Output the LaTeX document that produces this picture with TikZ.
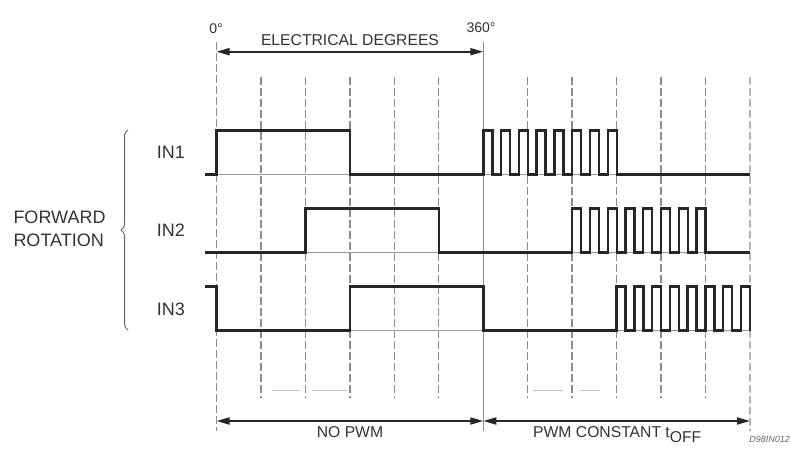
\documentclass[tikz,border=0pt]{standalone}
\usepackage{fontspec}
\setmainfont{Liberation Sans}
\usetikzlibrary{arrows.meta,decorations.pathreplacing}
\begin{document}
\begin{tikzpicture}[x=1pt,y=-1pt,
  sig/.style={line width=2.4pt,black!85,line join=miter},
  baseln/.style={line width=0.8pt,black!40},
  gridln/.style={line width=1.4pt,black!45,dash pattern=on 7.5pt off 3.5pt},
  solidln/.style={line width=1.3pt,black!45},
  faint/.style={line width=0.6pt,black!25},
  dim/.style={line width=1.8pt,black!85,{Triangle[length=13pt,width=7pt]}-{Triangle[length=13pt,width=7pt]}},
  lbl/.style={text=black!80,inner sep=0pt,font=\fontsize{15.7}{19}\selectfont},
  biglbl/.style={text=black!80,inner sep=0pt,font=\fontsize{18}{23.3}\selectfont},
  smlbl/.style={text=black!80,inner sep=0pt,font=\fontsize{14}{16}\selectfont},
  codelbl/.style={text=black!60,inner sep=0pt,font=\fontsize{9}{10}\selectfont\itshape}]
\useasboundingbox (0,0) rectangle (790,450);
\fill[white] (0,0) rectangle (790,450);

% grid
\foreach \i in {0,...,12}{
  \coordinate (t\i) at ({216.5+44.458*\i},77);
  \coordinate (b\i) at ({216.5+44.458*\i},398);
}
\foreach \i in {1,2,3,4,5,7,8,9,10,11} \draw[gridln] (t\i) -- (b\i);
\coordinate (g0top) at (216.5,42);
\coordinate (g0bot) at (216.5,431);
\coordinate (g12bot) at (750,431);
\coordinate (g6top) at (483.3,42);
\coordinate (g6bot) at (483.3,431);
\draw[gridln] (g0top) -- (g0bot);
\draw[gridln] (t12) -- (g12bot);
\draw[solidln] (g6top) -- (g6bot);

% faint artifacts
\draw[faint] (272,390.7) -- (300,390.7);
\draw[faint] (312,390.7) -- (347,390.7);
\draw[faint] (533,390.7) -- (563,390.7);
\draw[faint] (580,390.7) -- (600,390.7);

% baselines
\draw[baseln] (216.5,174.5) -- (750,174.5);
\draw[baseln] (216.5,252.5) -- (750,252.5);
\draw[baseln] (216.5,330.5) -- (750,330.5);

% IN1
\draw[sig] (205,174.5) -- (216.5,174.5) -- (216.5,130.5) -- (349.9,130.5) -- (349.9,174.5) -- (483.3,174.5)
  \foreach \k in {1,...,7}{ -- ++(0,-44) -- ++(9,0) -- ++(0,44) -- ++(8.771,0)}
  -- ++(0,-44) -- ++(9,0) -- ++(0,44) -- (750,174.5);
% IN2
\draw[sig] (205,252.5) -- (305.4,252.5) -- (305.4,208.5) -- (438.8,208.5) -- (438.8,252.5) -- (572.2,252.5)
  \foreach \k in {1,...,7}{ -- ++(0,-44) -- ++(9,0) -- ++(0,44) -- ++(8.771,0)}
  -- ++(0,-44) -- ++(9,0) -- ++(0,44) -- (750,252.5);
% IN3
\draw[sig] (205,286.5) -- (216.5,286.5) -- (216.5,330.5) -- (349.9,330.5) -- (349.9,286.5) -- (483.3,286.5) -- (483.3,330.5) -- (616.6,330.5)
  \foreach \k in {1,...,7}{ -- ++(0,-44) -- ++(9,0) -- ++(0,44) -- ++(8.771,0)}
  -- ++(0,-44) -- ++(9,0) -- ++(0,44);

% dimension arrows
\coordinate (a0) at (216.5,51.7);
\coordinate (a6) at (483.3,51.7);
\draw[dim] (a0) -- (a6);
\coordinate (c0) at (216.5,421);
\coordinate (c6) at (483.3,421);
\coordinate (c12) at (750,421);
\draw[dim] (c0) -- (c6);
\draw[dim] (c6) -- (c12);

% labels
\node[smlbl,anchor=base] (deg0) at (216,33) {0°};
\node[smlbl,anchor=base] (deg360) at (481,32) {360°};
\node[lbl,anchor=base] (eldeg) at (350,45) {ELECTRICAL DEGREES};
\node[lbl,anchor=base] (nopwm) at (350,437) {NO PWM};
\node[lbl,anchor=base west] (pwmc) at (533,437) {PWM CONSTANT t\raisebox{-5pt}{OFF}};
\node[codelbl,anchor=base east] (code) at (790,442) {D98IN012};

\node[biglbl,anchor=base west] (in1) at (156.7,158.3) {IN1};
\node[biglbl,anchor=base west] (in2) at (156.7,236.7) {IN2};
\node[biglbl,anchor=base west] (in3) at (156.7,315) {IN3};
\node[biglbl,anchor=base west] (fwd) at (13.3,223.3) {FORWARD};
\node[biglbl,anchor=base west] (rot) at (13.3,246.7) {ROTATION};

\coordinate (brb) at (128,330);
\coordinate (brt) at (128,130);
\draw[decorate,decoration={brace,amplitude=7pt},black!60,line width=1pt] (brb) -- (brt);
\end{tikzpicture}
\end{document}
